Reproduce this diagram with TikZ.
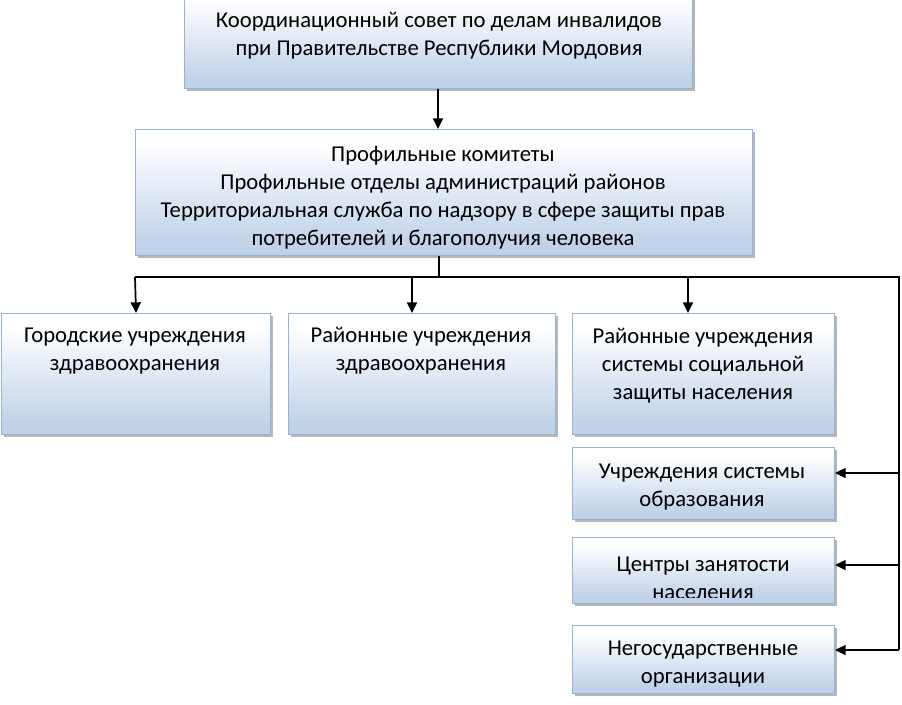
\documentclass[tikz,border=0pt]{standalone}
\usepackage{fontspec}
\setmainfont{Carlito}
\usetikzlibrary{shadows,arrows.meta}
\definecolor{boxblue}{RGB}{178,199,227}
\definecolor{boxline}{RGB}{149,179,215}
\pgfdeclareverticalshading{boxsh}{100bp}{color(0bp)=(boxblue); color(30bp)=(boxblue!80!white); color(70bp)=(white); color(100bp)=(white)}
\begin{document}
\begin{tikzpicture}[x=0.75pt,y=-0.75pt,
  box/.style={draw=boxline, line width=0.8pt, shading=boxsh,
    drop shadow={shadow xshift=2.2pt, shadow yshift=-2.2pt, opacity=0.4, fill=black!70},
    anchor=north west, inner sep=0pt},
  lbl/.style={align=center, font=\fontsize{17}{21}\selectfont, inner sep=0pt, anchor=center},
  arr/.style={line width=1.3pt, -{Triangle[width=7.5pt,length=8pt]}},
  ln/.style={line width=1.3pt}]
\useasboundingbox (0,0) rectangle (902,704);
% boxes
\node[box, minimum width=381pt, minimum height=73.5pt] (top) at (184,-10) {};
\node[box, minimum width=462.75pt, minimum height=94.5pt] (prof) at (135,129) {};
\node[box, minimum width=201.75pt, minimum height=90.75pt] (a) at (1,313) {};
\node[box, minimum width=200.25pt, minimum height=90.75pt] (b) at (288,313) {};
\node[box, minimum width=196.5pt, minimum height=90.75pt] (c) at (572,313) {};
\node[box, minimum width=196.5pt, minimum height=54pt] (d) at (572,447) {};
\node[box, minimum width=196.5pt, minimum height=49.5pt] (e) at (572,537) {};
\node[box, minimum width=196.5pt, minimum height=51pt] (f) at (572,625) {};
% labels
\node[lbl] (ttop) at (439,36) {Координационный совет по делам инвалидов\\при Правительстве Республики Мордовия};
\node[lbl] (tprof) at (443,198) {Профильные комитеты\\Профильные отделы администраций районов\\Территориальная служба по надзору в сфере защиты прав\\потребителей и благополучия человека};
\node[lbl] (ta) at (135,351) {Городские учреждения\\здравоохранения};
\node[lbl] (tb) at (421,351) {Районные учреждения\\здравоохранения};
\node[lbl] (tc) at (703,365.5) {Районные учреждения\\системы социальной\\защиты населения};
\node[lbl] (td) at (702,487) {Учреждения системы\\образования};
\begin{scope}
\clip (572,537) rectangle (834,597);
\node[lbl] (te) at (703,578) {Центры занятости\\населения};
\end{scope}
\node[lbl] (tf) at (703,664.5) {Негосударственные\\организации};
% connectors
\coordinate (stem) at (439,277);
\coordinate (bl) at (135,277);
\coordinate (br) at (899,277);
\coordinate (cb) at (412,277);
\coordinate (cc) at (688,277);
\coordinate (rd) at (899,473);
\coordinate (re) at (899,565);
\coordinate (rf) at (899,650);
\coordinate (tx) at (438,0);
\draw[arr] (tx |- top.south) -- (tx |- prof.north);
\draw[ln] (stem |- prof.south) -- (stem);
\draw[ln] (bl) -- (br) -- (rf);
\draw[arr] (bl) -- (a.north);
\draw[arr] (cb) -- (cb |- b.north);
\draw[arr] (cc) -- (cc |- c.north);
\draw[arr] (rd) -- (rd -| d.east);
\draw[arr] (re) -- (re -| e.east);
\draw[arr] (rf) -- (rf -| f.east);
\end{tikzpicture}
\end{document}
